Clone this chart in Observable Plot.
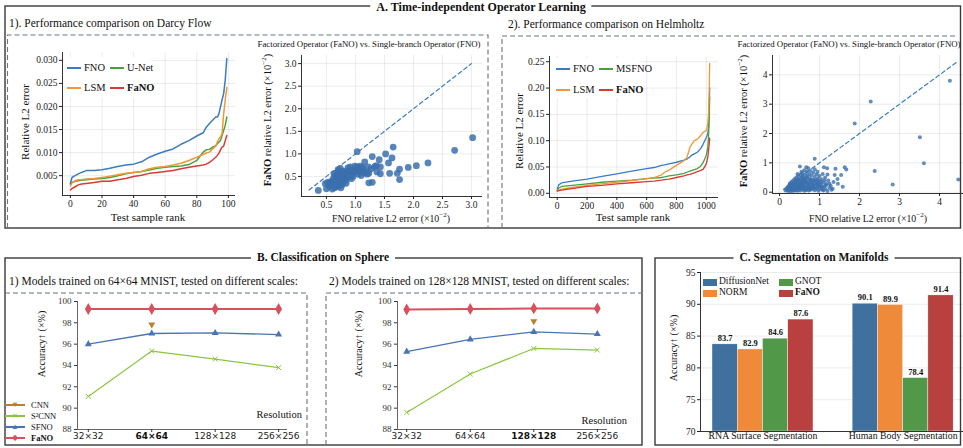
<!DOCTYPE html>
<html><head><meta charset="utf-8">
<script src="https://cdn.jsdelivr.net/npm/d3@7"></script>
<script src="https://cdn.jsdelivr.net/npm/@observablehq/plot@0.6"></script>
<style>
body{margin:0;background:#fff;}
#root{position:relative;width:963px;height:448px;overflow:hidden;font-family:"Liberation Serif","Times New Roman",serif;color:#111;background:#fff;}
#root svg{font-family:"Liberation Serif","Times New Roman",serif !important;}
.t{position:absolute;white-space:nowrap;line-height:1;transform:translate(-50%,-50%);}
.l{position:absolute;white-space:nowrap;line-height:1;transform:translate(0,-50%);}
.r{position:absolute;white-space:nowrap;line-height:1;transform:translate(-100%,-50%);}
.rot{position:absolute;white-space:nowrap;line-height:1;transform:translate(-50%,-50%) rotate(-90deg);}
.sec{background:#fff;padding:0 6px;font-weight:bold;font-size:11.5px;}
.sw{position:absolute;}
</style></head>
<body><div id="root">
<svg style="position:absolute;left:0;top:0" width="963" height="448">
 <g fill="none" stroke="#3a3a3a" stroke-width="1.4">
  <rect x="5" y="6" width="955.5" height="222"/>
  <rect x="5" y="258" width="637" height="187"/>
  <rect x="655" y="258" width="305.5" height="187"/>
 </g>
 <g fill="none" stroke="#6b7480" stroke-width="1.1" stroke-dasharray="5,3">
  <path d="M7.5,228 V35 H488 V228"/>
  <path d="M502,228 V36 H958"/>
  <path d="M5,293 H307 V445"/>
  <path d="M326,445 V293 H642"/>
 </g>
</svg>
<div class="t sec" style="left:481px;top:6.5px;font-size:12px">A. Time-independent Operator Learning</div>
<div class="t sec" style="left:323px;top:258px">B. Classification on Sphere</div>
<div class="t sec" style="left:814px;top:258px">C. Segmentation on Manifolds</div>
<div class="l" style="left:9px;top:24px;font-size:11.5px">1). Performance comparison on Darcy Flow</div>
<div class="l" style="left:508px;top:25px;font-size:11.5px">2). Performance comparison on Helmholtz</div>
<div class="l" style="left:9px;top:282px;font-size:11.5px">1) Models trained on 64×64 MNIST, tested on different scales:</div>
<div class="l" style="left:329px;top:282px;font-size:11.5px">2) Models trained on 128×128 MNIST, tested on different scales:</div>
</div>
<script>
// ---------------- DATA ----------------
// A1: Darcy flow, sorted relative L2 error per test sample rank
const darcyRank = [0,1,3,5,7,10,15,20,25,30,35,40,45,50,55,60,65,70,75,80,84,86,88,90,92,93,94,95,96,97,98,99];
const darcyFNO  = [0.0033,0.0046,0.0050,0.0054,0.0057,0.0061,0.0061,0.0063,0.0066,0.0070,0.0073,0.0075,0.0080,0.0090,0.0097,0.0103,0.0108,0.0118,0.0126,0.0136,0.0143,0.0155,0.0163,0.0170,0.0177,0.0177,0.0184,0.0199,0.0214,0.0228,0.0257,0.0304];
const darcyUNet = [0.0032,0.0035,0.0038,0.0039,0.0040,0.0041,0.0043,0.0044,0.0046,0.0050,0.0054,0.0057,0.0059,0.0062,0.0066,0.0068,0.0070,0.0071,0.0074,0.0083,0.0101,0.0106,0.0107,0.0112,0.0115,0.0119,0.0123,0.0126,0.0137,0.0148,0.0159,0.0177];
const darcyLSM  = [0.0028,0.0035,0.0039,0.0041,0.0041,0.0043,0.0044,0.0046,0.0049,0.0052,0.0055,0.0057,0.0059,0.0065,0.0068,0.0070,0.0073,0.0077,0.0083,0.0090,0.0096,0.0099,0.0101,0.0108,0.0114,0.0123,0.0130,0.0134,0.0141,0.0184,0.0214,0.0241];
const darcyFaNO = [0.0019,0.0022,0.0026,0.0030,0.0032,0.0033,0.0035,0.0038,0.0038,0.0041,0.0044,0.0048,0.0051,0.0055,0.0057,0.0059,0.0061,0.0065,0.0068,0.0071,0.0073,0.0075,0.0079,0.0084,0.0090,0.0094,0.0099,0.0106,0.0112,0.0114,0.0126,0.0137];
const darcyXTicks = [0,20,40,60,80,100];
const darcyYTicks = [0.005,0.010,0.015,0.020,0.025,0.030];

// A2: Darcy scatter, FNO error (x) vs FaNO error (y), x10^-2
const darcyScatFNO  = [0.36,0.50,0.48,0.52,0.87,1.03,0.91,0.99,1.03,1.07,1.13,1.16,1.22,1.23,1.27,1.29,1.23,1.29,1.33,1.36,1.41,1.43,1.37,1.43,1.52,1.57,1.59,1.63,1.65,1.72,1.76,1.76,1.91,2.05,2.25,2.71,3.02,
  0.55,0.58,0.60,0.62,0.63,0.65,0.66,0.67,0.68,0.69,0.70,0.70,0.71,0.72,0.73,0.74,0.75,0.76,0.77,0.78,0.79,0.80,0.82,0.83,0.85,0.86,0.88,0.90,0.92,0.95,0.97,1.00,1.05,1.08,1.10,1.12,1.15,1.18,0.68,0.75,0.60,0.64,0.72,0.84,0.78,0.93,0.57,0.62,0.66,0.73,0.79,0.81,0.87,0.96,1.02,1.06,1.20,0.70,0.74,0.63,0.95,1.08,1.12,0.99];
const darcyScatFaNO = [0.19,0.23,0.34,0.37,0.69,1.05,0.71,0.73,0.71,0.67,0.63,0.82,0.71,0.57,0.67,0.94,0.36,0.37,0.72,0.74,0.87,0.71,0.60,0.56,1.00,0.80,0.57,0.91,1.15,0.57,0.66,0.43,0.70,0.74,0.80,1.08,1.36,
  0.28,0.32,0.40,0.45,0.30,0.52,0.37,0.42,0.48,0.55,0.35,0.60,0.44,0.50,0.30,0.56,0.47,0.39,0.53,0.62,0.45,0.50,0.58,0.42,0.55,0.62,0.48,0.60,0.52,0.65,0.58,0.62,0.55,0.60,0.52,0.66,0.58,0.60,0.27,0.25,0.22,0.25,0.36,0.35,0.33,0.45,0.38,0.35,0.29,0.42,0.58,0.40,0.52,0.50,0.68,0.62,0.55,0.65,0.68,0.56,0.62,0.73,0.70,0.60];
const darcyDiag = [0.2,3.0];
const darcyScatTicks = [0.5,1.0,1.5,2.0,2.5,3.0];

// A3: Helmholtz sorted errors
const helmRank  = [0,10,30,100,200,300,400,500,600,650,700,720,750,800,850,870,890,900,920,940,960,980,1000,1010,1015,1020,1023];
const helmFNO   = [0.008,0.016,0.020,0.023,0.027,0.032,0.037,0.042,0.047,0.049,0.053,0.054,0.056,0.059,0.063,0.065,0.069,0.072,0.075,0.078,0.084,0.094,0.106,0.113,0.125,0.170,0.201];
const helmMSFNO = [0.005,0.010,0.013,0.015,0.018,0.021,0.023,0.025,0.028,0.029,0.030,0.031,0.033,0.035,0.038,0.040,0.042,0.043,0.045,0.047,0.051,0.059,0.072,0.087,0.106,0.144,0.183];
const helmLSM   = [0.004,0.006,0.008,0.011,0.015,0.018,0.021,0.024,0.028,0.030,0.035,0.040,0.044,0.053,0.062,0.068,0.087,0.092,0.100,0.103,0.109,0.116,0.119,0.132,0.151,0.201,0.247];
const helmFaNO  = [0.004,0.005,0.006,0.009,0.013,0.015,0.018,0.020,0.022,0.023,0.025,0.026,0.027,0.030,0.033,0.035,0.036,0.037,0.039,0.041,0.043,0.046,0.056,0.068,0.081,0.094,0.105];
const helmXTicks = [0,200,400,600,800,1000];
const helmYTicks = [0,0.05,0.10,0.15,0.20,0.25];

// A4: Helmholtz scatter
const helmScat = [
 [4.26,3.80],[2.28,3.09],[1.88,2.34],[3.51,1.87],[3.61,0.99],[2.38,0.72],[2.83,0.26],[4.47,0.43],[0.88,1.14],
 [1.63,0.85],[1.67,0.77],[1.40,0.80],[1.19,0.82],[1.11,0.85],[1.54,0.59],[1.38,0.59],[1.46,0.29],[1.58,0.19],[1.25,0.29],[0.95,0.29],[0.51,0.88],[0.67,0.85],
 [0.15,0.06],[0.18,0.10],[0.20,0.05],[0.20,0.15],[0.22,0.08],[0.22,0.20],[0.24,0.12],[0.25,0.04],[0.25,0.25],[0.26,0.17],[0.27,0.09],[0.28,0.30],[0.28,0.06],[0.29,0.22],
 [0.30,0.14],[0.30,0.35],[0.31,0.04],[0.32,0.27],[0.32,0.10],[0.33,0.19],[0.34,0.40],[0.35,0.07],[0.35,0.31],[0.36,0.15],[0.37,0.23],[0.38,0.45],[0.38,0.05],[0.39,0.36],
 [0.40,0.11],[0.40,0.28],[0.41,0.19],[0.42,0.50],[0.42,0.07],[0.43,0.40],[0.44,0.14],[0.45,0.33],[0.45,0.24],[0.46,0.05],[0.47,0.55],[0.47,0.18],[0.48,0.45],[0.49,0.10],
 [0.50,0.30],[0.50,0.38],[0.51,0.22],[0.52,0.60],[0.52,0.06],[0.53,0.14],[0.54,0.48],[0.55,0.27],[0.55,0.35],[0.56,0.19],[0.57,0.65],[0.57,0.09],[0.58,0.42],[0.59,0.30],
 [0.60,0.52],[0.60,0.13],[0.61,0.23],[0.62,0.05],[0.63,0.38],[0.64,0.60],[0.64,0.17],[0.65,0.28],[0.66,0.45],[0.67,0.10],[0.68,0.70],[0.68,0.33],[0.70,0.22],[0.70,0.55],
 [0.71,0.14],[0.72,0.40],[0.73,0.06],[0.74,0.62],[0.75,0.27],[0.76,0.48],[0.77,0.18],[0.78,0.35],[0.80,0.09],[0.80,0.58],[0.82,0.25],[0.83,0.43],[0.84,0.15],[0.85,0.66],
 [0.86,0.32],[0.88,0.07],[0.88,0.52],[0.90,0.21],[0.90,0.40],[0.92,0.12],[0.93,0.60],[0.95,0.30],[0.96,0.47],[0.97,0.05],[0.98,0.18],[1.00,0.37],[1.00,0.55],[1.02,0.10],
 [1.03,0.26],[1.05,0.44],[1.06,0.16],[1.08,0.62],[1.10,0.06],[1.10,0.33],[1.12,0.20],[1.14,0.50],[1.15,0.11],[1.18,0.28],[1.20,0.04],[1.22,0.40],[1.25,0.15],[1.28,0.22],
 [1.30,0.08],[1.35,0.35],[1.20,0.60],[1.45,0.45],[1.33,0.12],[0.62,0.75],[0.78,0.72],[0.95,0.70],[0.55,0.70],[0.45,0.62],[0.72,0.82],[0.88,0.78],
 [0.26,0.30],[0.33,0.12],[0.36,0.26],[0.41,0.33],[0.44,0.08],[0.46,0.42],[0.49,0.20],[0.53,0.36],[0.56,0.12],[0.58,0.22],[0.61,0.44],[0.63,0.16],[0.66,0.35],[0.69,0.12],
 [0.72,0.28],[0.74,0.20],[0.77,0.42],[0.79,0.14],[0.81,0.32],[0.84,0.23],[0.87,0.40],[0.91,0.28],[0.94,0.15],[0.99,0.25],[1.04,0.35],[1.07,0.08],[1.13,0.40],[1.16,0.24],
 [0.52,0.27],[0.60,0.35],[0.68,0.50],[0.35,0.20],[0.43,0.26],[0.50,0.15],[0.57,0.50],[0.65,0.07],[0.76,0.08],[0.86,0.14],[0.95,0.40],[1.05,0.20]
];
const helmDiag = [0.1,4.42];
const helmScatTicks = [0,1,2,3,4];

// B: classification on sphere
const resolutions = ["32×32","64×64","128×128","256×256"];
const b1FaNO  = [99.3,99.3,99.3,99.3];
const b1SFNO  = [96.0,97.0,97.05,96.9];
const b1S2CNN = [91.1,95.35,94.6,93.8];
const b1CNN   = [null,97.85,null,null];
const b2FaNO  = [99.25,99.3,99.35,99.35];
const b2SFNO  = [95.3,96.45,97.15,96.95];
const b2S2CNN = [89.6,93.2,95.6,95.45];
const b2CNN   = [null,null,98.15,null];
const accTicks = [88,90,92,94,96,98,100];

// C: segmentation on manifolds
const segTasks  = ["RNA Surface Segmentation","Human Body Segmentation"];
const segModels = ["DiffusionNet","NORM","GNOT","FaNO"];
const rnaAcc    = [83.7,82.9,84.6,87.6];
const humanAcc  = [90.1,89.9,78.4,91.4];
const segTicks  = [70,75,80,85,90,95];

// ---------------- STYLE ----------------
const SERIF = '"Liberation Serif","Times New Roman",serif';
const SANS = '"DejaVu Sans",sans-serif';
const col = {blue:"#3a7cc2", orange:"#f39637", green:"#45a23f", red:"#d93a33", scat:"#3b70ae"};
const bcol = {fanO:"#d8505e", sfno:"#4a74b5", s2:"#8cc640", cnn:"#b58232"};
const ccol = ["#40709e","#ef8a3b","#519948","#b8403f"];
const gridOpt = {stroke:"#000", strokeOpacity:0.08};
const root = document.getElementById("root");
function put(node, left, top){ node.style.position="absolute"; node.style.left=left+"px"; node.style.top=top+"px"; root.appendChild(node); }
function aStyle(){ return {fontFamily:SERIF, fontSize:"9.5px", color:"#222", background:"none", overflow:"visible"}; }

// ---------------- A1 ----------------
put(Plot.plot({
  width:245, height:175, marginLeft:62, marginRight:10, marginTop:12, marginBottom:20,
  style:aStyle(), x:{domain:[-5,104.5]}, y:{domain:[0.0007,0.0317]},
  marks:[
    Plot.gridX(darcyXTicks, gridOpt), Plot.gridY(darcyYTicks, gridOpt),
    Plot.line(darcyRank,{x:darcyRank, y:darcyUNet, stroke:col.green, strokeWidth:1.5}),
    Plot.line(darcyRank,{x:darcyRank, y:darcyLSM, stroke:col.orange, strokeWidth:1.5}),
    Plot.line(darcyRank,{x:darcyRank, y:darcyFNO, stroke:col.blue, strokeWidth:1.5}),
    Plot.line(darcyRank,{x:darcyRank, y:darcyFaNO, stroke:col.red, strokeWidth:1.5}),
    Plot.ruleX([-5],{stroke:"#333"}), Plot.ruleY([0.0007],{stroke:"#333"}),
    Plot.axisX(darcyXTicks,{tickSize:3, tickPadding:2, label:null}),
    Plot.axisY(darcyYTicks,{tickSize:3, tickPadding:2, tickFormat:d3.format(".3f"), label:null})
  ]}), 0, 40);

// ---------------- A2 ----------------
put(Plot.plot({
  width:250, height:170, marginLeft:61, marginRight:8, marginTop:10, marginBottom:19,
  style:aStyle(), x:{domain:[0.07,3.19]}, y:{domain:[0.056,3.18]},
  marks:[
    Plot.gridX(darcyScatTicks, gridOpt), Plot.gridY(darcyScatTicks, gridOpt),
    Plot.line(darcyDiag,{x:darcyDiag, y:darcyDiag, stroke:col.blue, strokeWidth:1.2, strokeDasharray:"4,3"}),
    Plot.dot(darcyScatFNO,{x:darcyScatFNO, y:darcyScatFaNO, r:3.4, fill:col.scat, fillOpacity:0.85}),
    Plot.ruleX([0.07],{stroke:"#333"}), Plot.ruleY([0.056],{stroke:"#333"}),
    Plot.axisX(darcyScatTicks,{tickSize:3, tickPadding:2, tickFormat:d3.format(".1f"), label:null}),
    Plot.axisY(darcyScatTicks,{tickSize:3, tickPadding:2, tickFormat:d3.format(".1f"), label:null})
  ]}), 240, 45);

// ---------------- A3 ----------------
put(Plot.plot({
  width:230, height:170, marginLeft:54, marginRight:7, marginTop:11, marginBottom:18,
  style:aStyle(), x:{domain:[-52,1082]}, y:{domain:[-0.008,0.26]},
  marks:[
    Plot.gridX(helmXTicks, gridOpt), Plot.gridY(helmYTicks, gridOpt),
    Plot.line(helmRank,{x:helmRank, y:helmFNO, stroke:col.blue, strokeWidth:1.3}),
    Plot.line(helmRank,{x:helmRank, y:helmMSFNO, stroke:col.green, strokeWidth:1.3}),
    Plot.line(helmRank,{x:helmRank, y:helmLSM, stroke:col.orange, strokeWidth:1.3}),
    Plot.line(helmRank,{x:helmRank, y:helmFaNO, stroke:col.red, strokeWidth:1.3}),
    Plot.ruleX([-52],{stroke:"#333"}), Plot.ruleY([-0.008],{stroke:"#333"}),
    Plot.axisX(helmXTicks,{tickSize:3, tickPadding:2, tickFormat:d3.format("d"), label:null}),
    Plot.axisY(helmYTicks,{tickSize:3, tickPadding:2, tickFormat:d3.format(".2f"), label:null})
  ]}), 495, 45);

// ---------------- A4 ----------------
put(Plot.plot({
  width:240, height:170, marginLeft:42, marginRight:5, marginTop:10, marginBottom:22,
  style:aStyle(), x:{domain:[-0.175,4.65]}, y:{domain:[-0.044,4.66]},
  marks:[
    Plot.gridX(helmScatTicks, gridOpt), Plot.gridY(helmScatTicks, gridOpt),
    Plot.line(helmDiag,{x:helmDiag, y:helmDiag, stroke:col.blue, strokeWidth:1.2, strokeDasharray:"4,3"}),
    Plot.dot(helmScat,{x:d=>d[0], y:d=>d[1], r:2, fill:col.scat, fillOpacity:0.8}),
    Plot.ruleX([-0.175],{stroke:"#333"}), Plot.ruleY([-0.044],{stroke:"#333"}),
    Plot.axisX(helmScatTicks,{tickSize:3, tickPadding:2, label:null}),
    Plot.axisY(helmScatTicks,{tickSize:3, tickPadding:2, label:null})
  ]}), 730, 45);

// ---------------- B ----------------
function bPlot(fa, sf, s2, cnn, boldIdx, xdom){
  const idx = [0,1,2,3];
  return Plot.plot({
    width:270, height:150, marginLeft:47, marginRight:13, marginTop:6, marginBottom:16,
    style:{fontFamily:SERIF, fontSize:"9px", color:"#333", background:"none", overflow:"visible"},
    x:{domain:xdom}, y:{domain:[88,100]},
    marks:[
      Plot.ruleX([xdom[0]],{stroke:"#666"}), Plot.ruleY([88],{stroke:"#666"}),
      Plot.line(idx,{x:idx, y:s2, stroke:bcol.s2, strokeWidth:1.2}),
      Plot.dot(idx,{x:idx, y:s2, symbol:"times", r:2.4, stroke:bcol.s2, strokeWidth:1}),
      Plot.line(idx,{x:idx, y:sf, stroke:bcol.sfno, strokeWidth:1.3}),
      Plot.dot(idx,{x:idx, y:sf, symbol:"triangle", r:2.6, fill:bcol.sfno}),
      Plot.line(idx,{x:idx, y:fa, stroke:bcol.fanO, strokeWidth:2}),
      Plot.dot(idx,{x:idx, y:fa, symbol:"diamond", r:3.6, fill:bcol.fanO}),
      Plot.dot(idx.filter(i=>cnn[i]!=null),{x:d=>d, y:d=>cnn[d], symbol:"triangle", rotate:180, r:2.6, fill:bcol.cnn}),
      Plot.axisY(accTicks,{tickSize:3, tickPadding:3, label:null}),
      Plot.axisX(idx,{tickSize:3, tickFormat:()=>"", label:null}),
      Plot.text(idx.filter(i=>i!==boldIdx),{x:d=>d, text:d=>resolutions[d], frameAnchor:"bottom", dy:9.5, fontFamily:SANS, fontSize:9, fill:"#222"}),
      Plot.text([boldIdx],{x:d=>d, text:d=>resolutions[d], frameAnchor:"bottom", dy:9.5, fontFamily:SANS, fontSize:9, fontWeight:"bold", fill:"#111"})
    ]});
}
put(bPlot(b1FaNO,b1SFNO,b1S2CNN,b1CNN,1,[-0.17,3.14]), 30, 295);
put(bPlot(b2FaNO,b2SFNO,b2S2CNN,b2CNN,2,[-0.145,3.16]), 350, 295);

// ---------------- C ----------------
const groupStride = 5.55;
const segData = [];
segTasks.forEach((t,ti)=> segModels.forEach((m,mi)=> segData.push({task:t, model:m, slot:ti*groupStride+mi, acc:(ti===0?rnaAcc:humanAcc)[mi]})));
put(Plot.plot({
  width:310, height:182, marginLeft:45, marginRight:0, marginTop:10, marginBottom:13,
  style:{fontFamily:SERIF, fontSize:"9.5px", color:"#222", background:"none", overflow:"visible"},
  x:{domain:[-0.475,10.02], axis:null}, y:{domain:[70,95]},
  color:{domain:segModels, range:ccol},
  marks:[
    Plot.gridY(segTicks.slice(1), gridOpt),
    Plot.rect(segData,{x1:"slot", x2:d=>d.slot+1, y1:70, y2:"acc", fill:"model", stroke:"#fff", strokeWidth:0.4}),
    Plot.text(segData,{x:d=>d.slot+0.5, y:"acc", text:d=>d.acc.toFixed(1), dy:-6, fontWeight:"bold", fontSize:8.5, fill:"#111"}),
    Plot.ruleX([-0.475],{stroke:"#333"}), Plot.ruleY([70],{stroke:"#333"}),
    Plot.axisY(segTicks,{tickSize:3, tickPadding:2, label:null}),
    Plot.text(segTasks,{x:(d,i)=>i*groupStride+2, text:d=>d, frameAnchor:"bottom", dy:7.5, fontSize:9.8, fill:"#111"})
  ]}), 655, 262);

// ---------------- LABELS & LEGENDS (HTML text) ----------------
function txt(cls, s, x, y, size, extra){ const d=document.createElement("div"); d.className=cls; d.innerHTML=s; d.style.left=x+"px"; d.style.top=y+"px"; d.style.fontSize=size+"px"; if(extra) Object.assign(d.style, extra); root.appendChild(d); return d; }
txt("rot","Relative L2 error",25,122,11);
txt("t","Test sample rank",148,217,11);
txt("rot","<b>FaNO</b> relative L2 error (×10<sup style='font-size:7px'>−2</sup>)",267,120,10.5);
txt("t","FNO relative L2 error (×10<sup style='font-size:7px'>−2</sup>)",391,218,9.8);
txt("t","Factorized Operator (FaNO) vs. Single-branch Operator (FNO)",369,44,8.8);
txt("rot","Relative L2 error",519,131,11);
txt("t","Test sample rank",633,217,11);
txt("rot","<b>FaNO</b> relative L2 error (×10<sup style='font-size:7px'>−2</sup>)",743,121,10.5);
txt("t","FNO relative L2 error (×10<sup style='font-size:7px'>−2</sup>)",868,218,9.8);
txt("t","Factorized Operator (FaNO) vs. Single-branch Operator (FNO)",849,44,8.8);
txt("rot","Accuracy↑ (×%)",42,344,10);
txt("rot","Accuracy↑ (×%)",359,344,10);
txt("r","Resolution",302,415,10.5);
txt("r","Resolution",627,421,10.5);
txt("rot","Accuracy↑ (×%)",674,348,10);

// A legends
function lineLegend(x0,y0,w,h,items){
  const box=document.createElement("div"); box.style.cssText=`position:absolute;left:${x0}px;top:${y0}px;width:${w}px;height:${h}px;background:#fff;border-radius:2px;`; root.appendChild(box);
  items.forEach(it=>{
    const s=document.createElement("div"); s.className="sw"; s.style.cssText=`position:absolute;left:${it.x}px;top:${it.y-1}px;width:14px;height:2px;background:${it.c}`; root.appendChild(s);
    txt("l", it.bold?`<b>${it.n}</b>`:it.n, it.x+17, it.y, 10.5);
  });
}
lineLegend(64,57,87,40,[{x:67,y:68,c:col.blue,n:"FNO"},{x:110,y:68,c:col.green,n:"U-Net"},{x:67,y:88,c:col.orange,n:"LSM"},{x:110,y:88,c:col.red,n:"FaNO",bold:true}]);
lineLegend(551,58,88,40,[{x:556,y:69,c:col.blue,n:"FNO"},{x:599,y:69,c:col.green,n:"MSFNO"},{x:556,y:90,c:col.orange,n:"LSM"},{x:599,y:90,c:col.red,n:"FaNO",bold:true}]);

// B legend
const bLeg = [["CNN",bcol.cnn,"▼"],["S²CNN",bcol.s2,"✕"],["SFNO",bcol.sfno,"▲"],["FaNO",bcol.fanO,"◆"]];
[405,416,427,437.5].forEach((y,i)=>{
  const [n,c,m]=bLeg[i];
  const s=document.createElement("div"); s.style.cssText=`position:absolute;left:5px;top:${y-(i===3?1:0.6)}px;width:20px;height:${i===3?2:1.2}px;background:${c}`; root.appendChild(s);
  txt("t",m,15,y,i===1?7:7.5,{color:c});
  txt("l",i===3?`<b>${n}</b>`:n,31,y,8.5);
});

// C legend
const cLeg=[[703,282,0],[779,282,2],[703,293,1],[779,293,3]];
const cbox=document.createElement("div"); cbox.style.cssText="position:absolute;left:701px;top:275px;width:152px;height:25px;background:#fff"; root.appendChild(cbox);
cLeg.forEach(([x,y,i])=>{
  const s=document.createElement("div"); s.style.cssText=`position:absolute;left:${x}px;top:${y-3.5}px;width:14px;height:7px;background:${ccol[i]}`; root.appendChild(s);
  txt("l",i===3?`<b>${segModels[i]}</b>`:segModels[i],x+16,y,9.5);
});
</script>
</body></html>
